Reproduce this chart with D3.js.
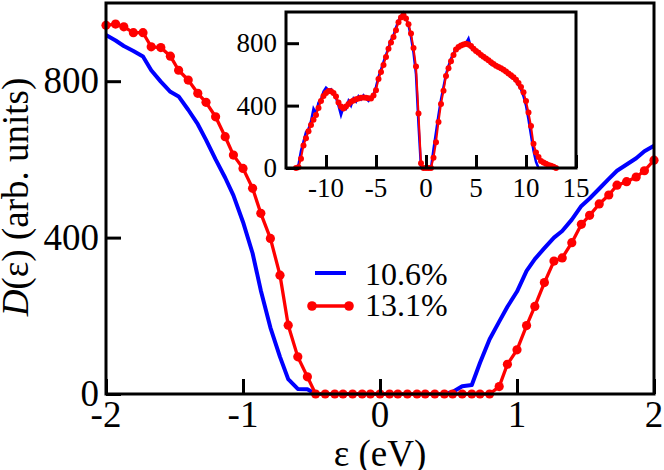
<!DOCTYPE html>
<html>
<head>
    <meta charset="utf-8">
    <script src="https://d3js.org/d3.v7.min.js"></script>
</head>
<body style="margin:0">
<script>
    // main panel: energy grid (eV) and DOS of the two concentrations
    const energy = [-2.00, -1.93, -1.87, -1.80, -1.73, -1.67, -1.60, -1.53, -1.47, -1.40,
        -1.33, -1.27, -1.20, -1.13, -1.07, -1.00, -0.93, -0.87, -0.80, -0.73,
        -0.67, -0.60, -0.53, -0.47, -0.40, -0.33, -0.27, -0.20, -0.13, -0.07,
        0.00, 0.07, 0.13, 0.20, 0.27, 0.33, 0.40, 0.47, 0.53, 0.60,
        0.67, 0.73, 0.80, 0.87, 0.93, 1.00, 1.07, 1.13, 1.20, 1.27,
        1.33, 1.40, 1.47, 1.53, 1.60, 1.67, 1.73, 1.80, 1.87, 1.93, 2.00];

    const dos106 = [918, 904, 890, 877, 863, 828, 799, 773, 761, 727,
        690, 650, 600, 553, 508, 440, 360, 265, 170, 95,
        38, 13, 12, 0, 0, 0, 0, 0, 0, 0,
        0, 0, 0, 0, 0, 0, 0, 0, 5, 20,
        23, 80, 140, 185, 223, 262, 315, 345, 373, 400,
        417, 446, 481, 500, 525, 550, 571, 587, 603, 621, 635];

    const dos131 = [943, 946, 939, 924, 924, 888, 886, 864, 828, 803,
        769, 746, 709, 658, 611, 577, 526, 462, 398, 304,
        176, 95, 44, 0, 0, 0, 0, 0, 0, 0,
        0, 0, 0, 0, 0, 0, 0, 0, 0, 0,
        0, 0, 0, 19, 76, 113, 175, 224, 285, 340,
        348, 387, 434, 457, 486, 509, 534, 543, 555, 571, 598];

    // inset: full energy range
    const energyWide = [-13.00, -12.75, -12.50, -12.25, -12.00, -11.75, -11.50, -11.25, -11.00, -10.75,
        -10.50, -10.25, -10.00, -9.75, -9.50, -9.25, -9.00, -8.75, -8.50, -8.25,
        -8.00, -7.75, -7.50, -7.25, -7.00, -6.75, -6.50, -6.25, -6.00, -5.75,
        -5.50, -5.25, -5.00, -4.75, -4.50, -4.25, -4.00, -3.75, -3.50, -3.25,
        -3.00, -2.75, -2.50, -2.25, -2.00, -1.75, -1.50, -1.25, -1.00, -0.75,
        -0.50, -0.25, 0.00, 0.25, 0.50, 0.75, 1.00, 1.25, 1.50, 1.75,
        2.00, 2.25, 2.50, 2.75, 3.00, 3.25, 3.50, 3.75, 4.00, 4.25,
        4.50, 4.75, 5.00, 5.25, 5.50, 5.75, 6.00, 6.25, 6.50, 6.75,
        7.00, 7.25, 7.50, 7.75, 8.00, 8.25, 8.50, 8.75, 9.00, 9.25,
        9.50, 9.75, 10.00, 10.25, 10.50, 10.75, 11.00, 11.25, 11.50, 11.75,
        12.00, 12.25, 12.50, 12.75, 13.00];

    const wide106 = [0, 20, 110, 170, 230, 250, 300, 380, 350, 420,
        440, 490, 515, 500, 505, 470, 450, 400, 340, 390,
        380, 430, 400, 445, 425, 460, 440, 465, 445, 430,
        455, 470, 520, 585, 630, 680, 725, 770, 820, 850,
        900, 945, 975, 995, 960, 915, 840, 740, 600, 280,
        0, 0, 0, 0, 0, 120, 230, 340, 440, 520,
        600, 655, 700, 735, 765, 780, 790, 795, 800, 830,
        770, 770, 745, 740, 720, 715, 695, 690, 665, 670,
        650, 645, 630, 628, 610, 600, 580, 575, 555, 530,
        505, 460, 400, 310, 210, 110, 40, 0, 0, 0,
        0, 0, 0, 0, 0];

    const wide131 = [0, 5, 60, 145, 190, 235, 275, 310, 340, 385,
        430, 462, 480, 493, 492, 480, 458, 420, 395, 382,
        395, 410, 424, 432, 440, 446, 450, 452, 450, 447,
        446, 465, 499, 570, 615, 660, 712, 765, 805, 840,
        883, 935, 965, 980, 958, 922, 862, 770, 650, 350,
        30, 0, 0, 0, 0, 65, 165, 295, 410, 495,
        590, 640, 685, 725, 760, 775, 785, 792, 797, 792,
        782, 765, 750, 738, 725, 713, 702, 690, 678, 666,
        656, 648, 640, 630, 618, 606, 594, 582, 566, 545,
        520, 485, 430, 355, 270, 155, 100, 70, 45, 35,
        28, 20, 15, 8, 0];

    const seriesNames = ["10.6%", "13.1%"];
    const seriesColors = ["#0000ff", "#ff0000"];

    const xTicks = [-2, -1, 0, 1, 2];
    const xTickLabels = ["-2", "-1", "0", "1", "2"];
    const yTicks = [0, 400, 800];
    const yTickLabels = ["0", "400", "800"];
    const insetXTicks = [-10, -5, 0, 5, 10, 15];
    const insetXTickLabels = ["-10", "-5", "0", "5", "10", "15"];
    const insetYTicks = [0, 400, 800];
    const insetYTickLabels = ["0", "400", "800"];

    const fontName = "'Liberation Serif'";

    var svg = d3.select("body").append("svg")
        .attr("width", 664)
        .attr("height", 470);

    // helper so every label gets the same serif face
    function serifText(sel, size) {
        return sel.style("font-family", fontName)
            .attr("font-size", size)
            .attr("fill", "black");
    }

    // ---- main panel ----
    var x = d3.scaleLinear().domain([-2, 2]).range([106, 654]);
    var y = d3.scaleLinear().domain([0, 1000]).range([394, 3]);

    var line = d3.line()
        .x(function(d) { return x(d[0]); })
        .y(function(d) { return y(d[1]); });

    var blueData = energy.map(function(e, i) { return [e, dos106[i]]; });
    var redData = energy.map(function(e, i) { return [e, dos131[i]]; });

    svg.append("path")
        .attr("d", line(blueData))
        .attr("fill", "none")
        .attr("stroke", seriesColors[0])
        .attr("stroke-width", 4)
        .attr("stroke-linejoin", "round");

    svg.append("path")
        .attr("d", line(redData))
        .attr("fill", "none")
        .attr("stroke", seriesColors[1])
        .attr("stroke-width", 3.3)
        .attr("stroke-linejoin", "round");

    svg.append("g").selectAll("circle")
        .data(redData)
        .enter()
        .append("circle")
        .attr("cx", function(d) { return x(d[0]); })
        .attr("cy", function(d) { return y(d[1]); })
        .attr("r", 4.6)
        .attr("fill", seriesColors[1]);

    // ticks point inward; labels placed from the same scales
    var xAxis = svg.append("g")
        .attr("transform", "translate(0,394)")
        .call(d3.axisBottom(x)
            .tickValues(xTicks)
            .tickSize(-15)
            .tickFormat(""));
    var yAxis = svg.append("g")
        .attr("transform", "translate(106,0)")
        .call(d3.axisLeft(y)
            .tickValues(yTicks)
            .tickSize(-15)
            .tickFormat(""));

    serifText(svg.append("g").selectAll("text")
        .data(xTicks)
        .enter()
        .append("text")
        .attr("x", function(d) { return x(d); })
        .attr("y", 427)
        .attr("text-anchor", "middle")
        .text(function(d, i) { return xTickLabels[i]; }), 37);

    serifText(svg.append("g").selectAll("text")
        .data(yTicks)
        .enter()
        .append("text")
        .attr("x", 99)
        .attr("y", function(d) { return y(d) + 12; })
        .attr("text-anchor", "end")
        .text(function(d, i) { return yTickLabels[i]; }), 37);

    [xAxis, yAxis].forEach(function(a) {
        a.select(".domain").remove();
        a.selectAll(".tick text").remove();
        a.selectAll(".tick line").attr("stroke", "black").attr("stroke-width", 3);
    });

    svg.append("rect")
        .attr("x", 106).attr("y", 3)
        .attr("width", 548).attr("height", 391)
        .attr("fill", "none")
        .attr("stroke", "black")
        .attr("stroke-width", 3);

    // axis titles
    var yTitle = serifText(svg.append("text")
        .attr("transform", "translate(28,197) rotate(-90)")
        .attr("text-anchor", "middle"), 37);
    yTitle.append("tspan").style("font-style", "italic").text("D");
    yTitle.append("tspan").text("(ε) (arb. units)");

    serifText(svg.append("text")
        .attr("x", 380)
        .attr("y", 466)
        .attr("text-anchor", "middle")
        .text("ε (eV)"), 37);

    // legend
    var legend = svg.append("g");
    legend.append("line")
        .attr("x1", 315).attr("x2", 346)
        .attr("y1", 273).attr("y2", 273)
        .attr("stroke", seriesColors[0])
        .attr("stroke-width", 4);
    legend.append("line")
        .attr("x1", 312).attr("x2", 349)
        .attr("y1", 306).attr("y2", 306)
        .attr("stroke", seriesColors[1])
        .attr("stroke-width", 3.3);
    legend.selectAll("circle")
        .data([312, 349])
        .enter()
        .append("circle")
        .attr("cx", function(d) { return d; })
        .attr("cy", 306)
        .attr("r", 4.8)
        .attr("fill", seriesColors[1]);
    serifText(legend.selectAll("text")
        .data(seriesNames)
        .enter()
        .append("text")
        .attr("x", 365)
        .attr("y", function(d, i) { return i == 0 ? 285 : 316; })
        .text(function(d) { return d; }), 32);

    // ---- inset ----
    var ix = d3.scaleLinear().domain([-14, 15]).range([286, 576]);
    var iy = d3.scaleLinear().domain([0, 1000]).range([168, 12]);

    svg.append("rect")
        .attr("x", 286).attr("y", 12)
        .attr("width", 290).attr("height", 156)
        .attr("fill", "white");

    var iline = d3.line()
        .x(function(d) { return ix(d[0]); })
        .y(function(d) { return iy(d[1]); });

    var wideBlue = energyWide.map(function(e, i) { return [e, wide106[i]]; });
    var wideRed = energyWide.map(function(e, i) { return [e, wide131[i]]; });

    svg.append("path")
        .attr("d", iline(wideBlue))
        .attr("fill", "none")
        .attr("stroke", seriesColors[0])
        .attr("stroke-width", 2.5);

    svg.append("path")
        .attr("d", iline(wideRed))
        .attr("fill", "none")
        .attr("stroke", seriesColors[1])
        .attr("stroke-width", 2);

    svg.append("g").selectAll("circle")
        .data(wideRed)
        .enter()
        .append("circle")
        .attr("cx", function(d) { return ix(d[0]); })
        .attr("cy", function(d) { return iy(d[1]); })
        .attr("r", 3)
        .attr("fill", seriesColors[1]);

    var ixAxis = svg.append("g")
        .attr("transform", "translate(0,168)")
        .call(d3.axisBottom(ix)
            .tickValues(insetXTicks)
            .tickSize(-13)
            .tickFormat(""));
    var iyAxis = svg.append("g")
        .attr("transform", "translate(286,0)")
        .call(d3.axisLeft(iy)
            .tickValues(insetYTicks)
            .tickSize(-13)
            .tickFormat(""));
    [ixAxis, iyAxis].forEach(function(a) {
        a.select(".domain").remove();
        a.selectAll(".tick text").remove();
        a.selectAll(".tick line").attr("stroke", "black").attr("stroke-width", 3);
    });

    serifText(svg.append("g").selectAll("text")
        .data(insetXTicks)
        .enter()
        .append("text")
        .attr("x", function(d) { return ix(d); })
        .attr("y", 197)
        .attr("text-anchor", "middle")
        .text(function(d, i) { return insetXTickLabels[i]; }), 27);

    serifText(svg.append("g").selectAll("text")
        .data(insetYTicks)
        .enter()
        .append("text")
        .attr("x", 277)
        .attr("y", function(d) { return iy(d) + 9; })
        .attr("text-anchor", "end")
        .text(function(d, i) { return insetYTickLabels[i]; }), 27);

    svg.append("rect")
        .attr("x", 286).attr("y", 12)
        .attr("width", 290).attr("height", 156)
        .attr("fill", "none")
        .attr("stroke", "black")
        .attr("stroke-width", 3);
</script>
</body>
</html>
